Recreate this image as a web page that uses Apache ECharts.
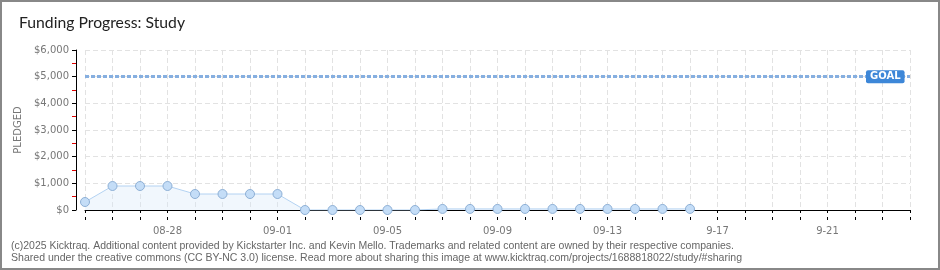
<!DOCTYPE html>
<html>
<head>
<meta charset="utf-8">
<script src="https://cdn.jsdelivr.net/npm/echarts@6/dist/echarts.min.js"></script>
<style>
html,body{margin:0;padding:0;background:#fff;}
#chart{width:940px;height:270px;}
</style>
</head>
<body>
<div id="chart"></div>
<script>
// ---- data ----
const categories = ['08-25','08-26','08-27','08-28','08-29','08-30','08-31',
  '09-01','09-02','09-03','09-04','09-05','09-06','09-07','09-08','09-09','09-10',
  '09-11','09-12','09-13','09-14','09-15','09-16','09-17','09-18','09-19','09-20',
  '09-21','09-22','09-23','09-24'];
const tickLabels = ['','','','08-28','','','','09-01','','','','09-05','','','','09-09',
  '','','','09-13','','','','9-17','','','','9-21','','',''];
const pledged = [300, 900, 900, 900, 600, 600, 600, 600, 0, 0, 0, 0, 0,
  40, 40, 40, 40, 40, 40, 40, 40, 40, 40];
const goal = 5000;
const titleText = 'Funding Progress: Study';
const footer1 = '(c)2025 Kicktraq. Additional content provided by Kickstarter Inc. and Kevin Mello. Trademarks and related content are owned by their respective companies.';
const footer2 = 'Shared under the creative commons (CC BY-NC 3.0) license. Read more about sharing this image at www.kicktraq.com/projects/1688818022/study/#sharing';

// ---- helpers ----
const mctx = document.createElement('canvas').getContext('2d');
function fitScale(text, font, width) {
  mctx.font = font;
  return width / mctx.measureText(text).width;
}
const footFont = '11px "Liberation Sans"';
const s1 = fitScale(footer1, footFont, 723);
const s2 = fitScale(footer2, footFont, 731);
const titleFont = '16px "Lato"';
const sT = fitScale(titleText, titleFont, 166);

const chart = echarts.init(document.getElementById('chart'), null, {renderer: 'canvas'});
const axisFont = 'DejaVu Sans';
const option = {
  animation: false,
  backgroundColor: '#fff',
  grid: {left: 85, right: 30, top: 50, bottom: 60, containLabel: false},
  xAxis: [{
    type: 'category', data: categories, boundaryGap: false, offset: 10,
    axisLine: {lineStyle: {color: '#000', width: 1}},
    axisTick: {show: true, interval: 0, length: 3, lineStyle: {color: '#000'}},
    axisLabel: {interval: 0, formatter: (v, i) => tickLabels[i], color: '#777',
      fontFamily: axisFont, fontSize: 10, margin: 6},
    splitLine: {show: true, interval: 0, lineStyle: {color: '#e2e2e2', type: [5, 3]}}
  }, {
    type: 'category', data: categories, boundaryGap: false, offset: 10, position: 'bottom',
    axisLine: {show: false},
    axisTick: {show: true, inside: true, interval: 0, length: 3, lineStyle: {color: '#000'}},
    axisLabel: {show: false},
    splitLine: {show: false}
  }],
  yAxis: {
    type: 'value', min: 0, max: 6000, interval: 1000, offset: 9,
    name: 'PLEDGED', nameLocation: 'middle', nameGap: 50, nameRotate: 90,
    nameTextStyle: {color: '#777', fontFamily: axisFont, fontSize: 10},
    axisLine: {show: true, lineStyle: {color: '#000', width: 1}},
    axisTick: {show: true, length: 4, lineStyle: {color: '#000'}},
    minorTick: {show: true, splitNumber: 2, length: 4, lineStyle: {color: '#e00000'}},
    axisLabel: {color: '#777', fontFamily: axisFont, fontSize: 10, margin: 7,
      formatter: v => '$' + v.toLocaleString('en-US')},
    splitLine: {show: true, lineStyle: {color: '#e2e2e2', type: [5, 3]}}
  },
  series: [{
    type: 'line', data: pledged, xAxisIndex: 0,
    symbol: 'circle', symbolSize: 9,
    lineStyle: {color: '#b3d2f2', width: 1},
    itemStyle: {color: '#c4ddf7', borderColor: '#8eb0d6', borderWidth: 1},
    areaStyle: {color: 'rgba(215,232,250,0.5)'},
    markLine: {
      silent: true, symbol: 'none',
      data: [{yAxis: goal}],
      lineStyle: {color: '#86afe0', type: [4, 2], width: 3},
      label: {
        show: true, position: 'end', formatter: 'GOAL', distance: 0, offset: [-44, 0],
        color: '#fff', backgroundColor: '#3d87d8', fontFamily: axisFont, fontSize: 10,
        fontWeight: 'bold', padding: [2, 4, 1, 4], borderRadius: 2
      }
    }
  }],
  graphic: [
    {type: 'rect', shape: {x: 1, y: 1, width: 938, height: 268}, silent: true,
      style: {fill: 'none', stroke: '#888', lineWidth: 2}},
    {type: 'text', x: 19, y: 15, scaleX: sT, silent: true,
      style: {text: titleText, font: titleFont, fill: '#222'}},
    {type: 'text', x: 11, y: 240, scaleX: s1, silent: true,
      style: {text: footer1, font: footFont, fill: '#666'}},
    {type: 'text', x: 11, y: 252, scaleX: s2, silent: true,
      style: {text: footer2, font: footFont, fill: '#666'}}
  ]
};
chart.setOption(option);
</script>
</body>
</html>
